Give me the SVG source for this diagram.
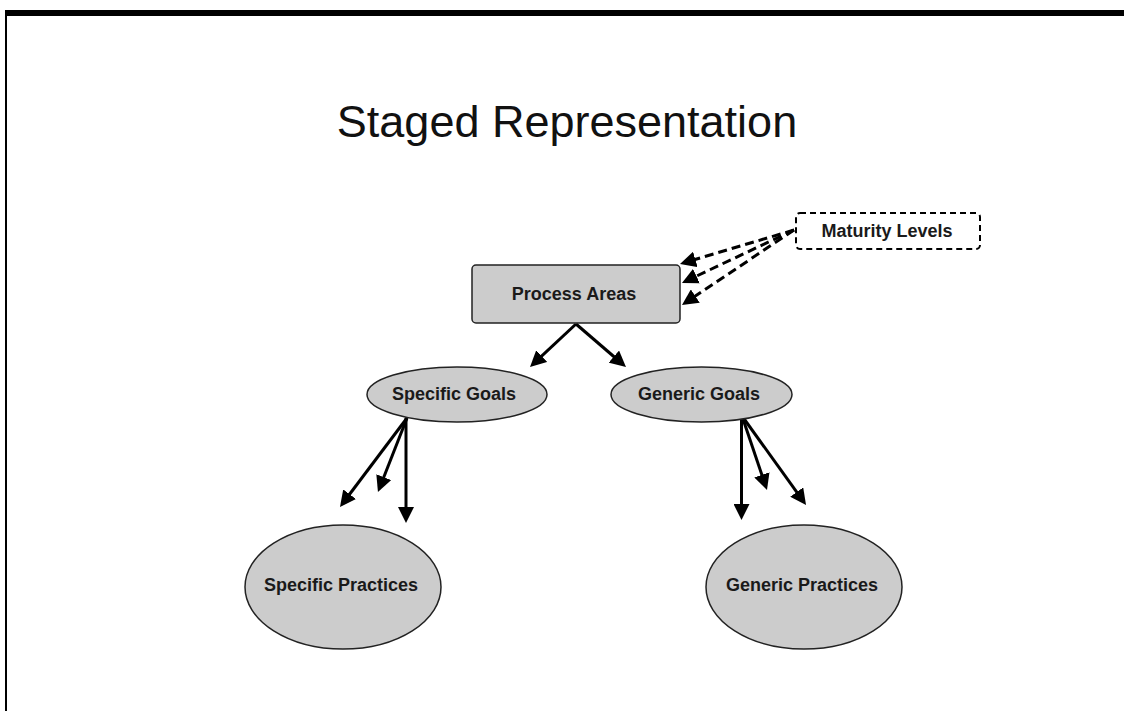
<svg xmlns="http://www.w3.org/2000/svg" width="1124" height="711" viewBox="0 0 1124 711">
<style>
.lbl{font-family:"Liberation Sans",Arial,sans-serif;font-weight:bold;font-size:18px;fill:#1a1a1a;text-anchor:middle;dominant-baseline:central}
.title{font-family:"Liberation Sans",Arial,sans-serif;font-size:45px;fill:#111;text-anchor:middle}
.shape{fill:#cccccc;stroke:#222;stroke-width:1.5}
.con{stroke:#000;stroke-width:3;fill:none}
.dash{stroke:#000;stroke-width:3;fill:none;stroke-dasharray:9 5}
</style>
<defs>
<marker id="ah" markerUnits="userSpaceOnUse" markerWidth="16" markerHeight="16" viewBox="0 0 16 16" refX="6" refY="8" orient="auto">
<path d="M0,0 L16,8 L0,16 z" fill="#000"/>
</marker>
</defs>
<rect x="5" y="10" width="1119" height="6" fill="#000"/>
<rect x="5" y="10" width="2" height="701" fill="#000"/>
<text class="title" x="567" y="137">Staged Representation</text>
<g id="connectors">
<line class="con" x1="576" y1="324" x2="537.3" y2="360.2" marker-end="url(#ah)"/>
<line class="con" x1="576" y1="324" x2="618.4" y2="360.5" marker-end="url(#ah)"/>
<line class="con" x1="407" y1="418" x2="346" y2="499" marker-end="url(#ah)"/>
<line class="con" x1="407" y1="418" x2="381.6" y2="482.7" marker-end="url(#ah)"/>
<line class="con" x1="406" y1="418" x2="406" y2="513" marker-end="url(#ah)"/>
<line class="con" x1="741.5" y1="416" x2="741.5" y2="510" marker-end="url(#ah)"/>
<line class="con" x1="742" y1="416" x2="763.8" y2="480.5" marker-end="url(#ah)"/>
<line class="con" x1="742" y1="416" x2="800.2" y2="496.9" marker-end="url(#ah)"/>
<line class="dash" x1="794" y1="230" x2="689.6" y2="261.1" marker-end="url(#ah)"/>
<line class="dash" x1="794" y1="230" x2="691" y2="278.7" marker-end="url(#ah)"/>
<line class="dash" x1="794" y1="230" x2="690.3" y2="299.4" marker-end="url(#ah)"/>
</g>
<g id="maturity-levels">
<rect x="796" y="213" width="184" height="36" rx="4" fill="#fff" stroke="#000" stroke-width="2" stroke-dasharray="6 4"/>
<text class="lbl" x="887" y="231">Maturity Levels</text>
</g>
<g id="process-areas">
<rect class="shape" x="472" y="265" width="208" height="58" rx="4"/>
<text class="lbl" x="574" y="294">Process Areas</text>
</g>
<g id="specific-goals">
<ellipse class="shape" cx="457" cy="394.5" rx="90" ry="27.5"/>
<text class="lbl" x="454" y="394">Specific Goals</text>
</g>
<g id="generic-goals">
<ellipse class="shape" cx="701.5" cy="394.5" rx="90.5" ry="27.5"/>
<text class="lbl" x="699" y="394">Generic Goals</text>
</g>
<g id="specific-practices">
<ellipse class="shape" cx="343" cy="587" rx="98" ry="62"/>
<text class="lbl" x="341" y="585">Specific Practices</text>
</g>
<g id="generic-practices">
<ellipse class="shape" cx="804" cy="587" rx="98" ry="62"/>
<text class="lbl" x="802" y="585">Generic Practices</text>
</g>
</svg>
